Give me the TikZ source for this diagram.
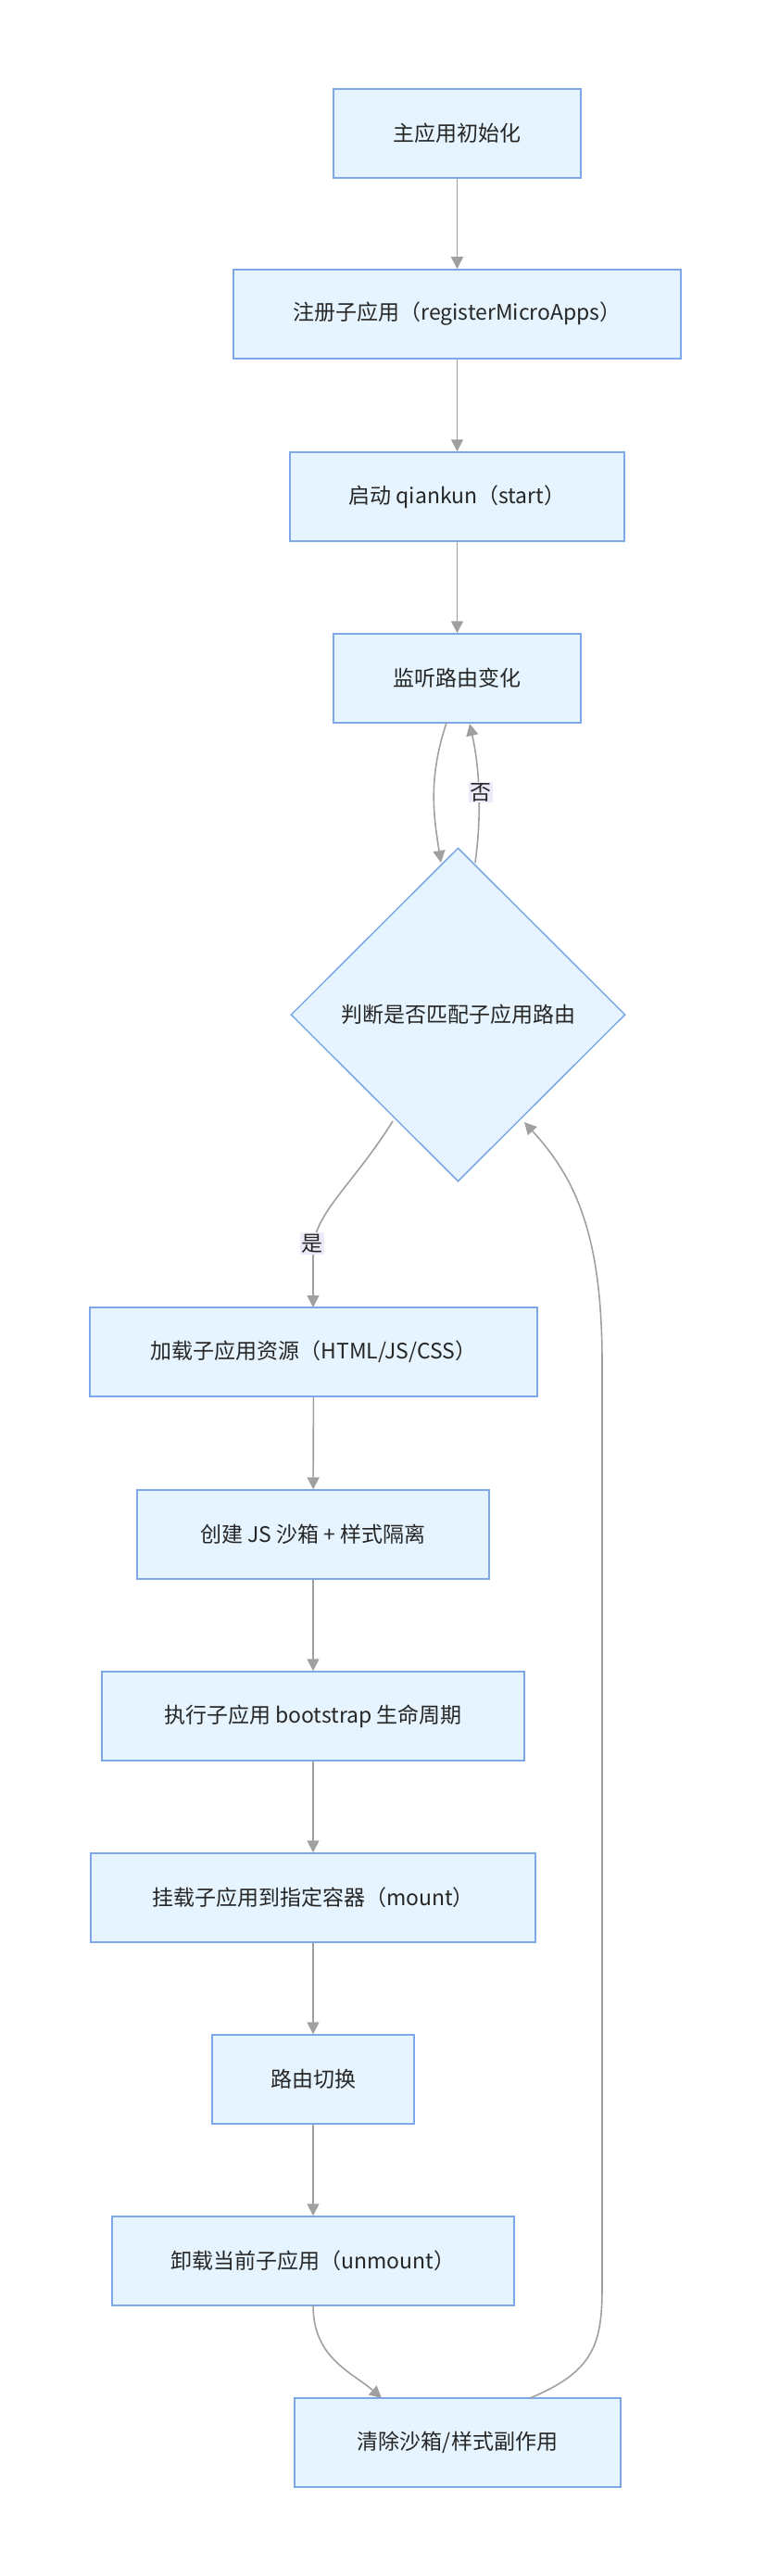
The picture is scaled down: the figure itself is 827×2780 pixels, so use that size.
\documentclass[tikz,border=0pt]{standalone}
\usepackage{fontspec}
\setmainfont{Noto Sans CJK SC}
\usetikzlibrary{shapes.geometric,arrows.meta}
\definecolor{nfill}{HTML}{E5F4FE}
\definecolor{nline}{HTML}{7DA7E6}
\definecolor{eline}{HTML}{A0A0A0}
\definecolor{lbl}{HTML}{EDE9F8}
\begin{document}
\begin{tikzpicture}[x=1pt,y=-1pt,
  box/.style={draw=nline,fill=nfill,line width=1.5pt,minimum height=96pt,inner sep=0pt,font=\fontsize{23}{27}\selectfont,text=black!85},
  dia/.style={draw=nline,fill=nfill,line width=1.5pt,diamond,aspect=1,minimum width=361pt,minimum height=360pt,inner sep=0pt,font=\fontsize{23}{27}\selectfont,text=black!85},
  ed/.style={draw=eline,line width=1.6pt,-{Triangle[length=13pt,width=13pt]}},
  lb/.style={fill=lbl,inner sep=1.5pt,font=\fontsize{23}{27}\selectfont,text=black!85}]
\useasboundingbox (0,0) rectangle (827,2780);
\node[box,minimum width=267pt] (n1) at (493.5,144) {主应用初始化};
\node[box,minimum width=483pt] (n2) at (493.5,339) {注册子应用（registerMicroApps）};
\node[box,minimum width=361pt] (n3) at (493.5,536) {启动 qiankun（start）};
\node[box,minimum width=267pt] (n4) at (493.5,732) {监听路由变化};
\node[dia] (d) at (494.5,1095) {判断是否匹配子应用路由};
\node[box,minimum width=483pt] (n5) at (338.5,1459) {加载子应用资源（HTML/JS/CSS）};
\node[box,minimum width=380pt] (n6) at (338,1656) {创建 JS 沙箱 + 样式隔离};
\node[box,minimum width=456pt] (n7) at (338,1852) {执行子应用 bootstrap 生命周期};
\node[box,minimum width=480pt] (n8) at (338,2048) {挂载子应用到指定容器（mount）};
\node[box,minimum width=218pt] (n9) at (338,2244) {路由切换};
\node[box,minimum width=434pt] (n10) at (338,2440) {卸载当前子应用（unmount）};
\node[box,minimum width=352pt] (n11) at (494,2636) {清除沙箱/样式副作用};
\coordinate (a4) at (482,780); \coordinate (ad) at (476,931);
\coordinate (b4) at (507,781); \coordinate (bd) at (513,931);
\coordinate (c1) at (424,1210); \coordinate (c5) at (338,1411);
\coordinate (e10) at (338,2488); \coordinate (e11) at (412,2588);
\coordinate (f11) at (572,2588); \coordinate (fd) at (566,1211);
\draw[ed] (n1) -- (n2);
\draw[ed] (n2) -- (n3);
\draw[ed] (n3) -- (n4);
\draw[ed] (a4) .. controls (462,840) and (468,880) .. (ad);
\draw[ed] (bd) .. controls (520,880) and (518,830) .. (b4);
\node[lb] (l1) at (519,855) {否};
\draw[ed] (c1) .. controls (380,1280) and (338,1310) .. (338,1350) -- (c5);
\node[lb] (l2) at (337,1342) {是};
\draw[ed] (n5) -- (n6);
\draw[ed] (n6) -- (n7);
\draw[ed] (n7) -- (n8);
\draw[ed] (n8) -- (n9);
\draw[ed] (n9) -- (n10);
\draw[ed] (e10) .. controls (338,2545) and (380,2560) .. (e11);
\draw[ed] (f11) .. controls (640,2560) and (650,2530) .. (650,2470) -- (650,1470) .. controls (650,1330) and (620,1270) .. (fd);
\end{tikzpicture}
\end{document}
